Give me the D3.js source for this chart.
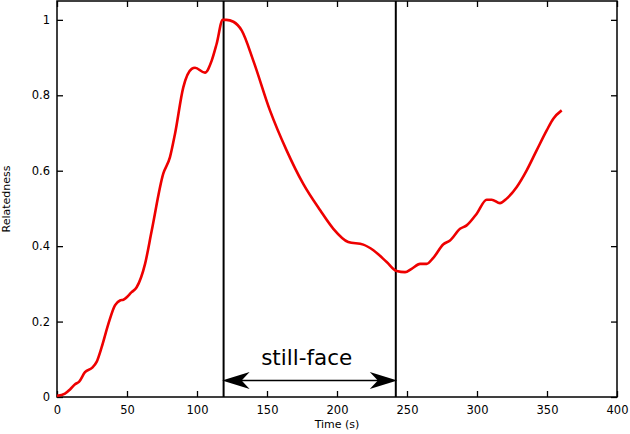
<!DOCTYPE html>
<html>
<head>
<meta charset="utf-8">
<script src="https://cdn.jsdelivr.net/npm/d3@7"></script>
<style>
  body { margin: 0; background: #fff; }
  text { font-family: "DejaVu Sans", sans-serif; }
</style>
</head>
<body>
<div id="chart"></div>
<script>
// Relatedness curve (time in s, value)
const times = [0, 5.7, 9.3, 12.9, 15.7, 20, 25.2, 28.3, 31.9, 36.7, 41.4, 45, 47.4, 53.3, 56.9, 62.9, 67.6,
  75.9, 80.7, 84.3, 90.2, 96.2, 98.6, 105.7, 110.5, 114, 118.4, 121, 126, 131.9, 140.2, 152.1, 164, 175.9,
  188, 197.4, 208, 218.8, 226, 235.5, 242.6, 248.6, 253.3, 259.3, 264, 268.8, 276, 280.7, 287.9, 292.6,
  299.8, 306.9, 310.5, 316.4, 321.2, 328.4, 335.5, 342.6, 349.8, 354.5, 360.5];
const relatedness = [0.003, 0.009, 0.02, 0.034, 0.04, 0.066, 0.078, 0.093, 0.132, 0.194, 0.243, 0.256, 0.258, 0.278, 0.291, 0.353, 0.44,
  0.592, 0.636, 0.698, 0.821, 0.87, 0.873, 0.86, 0.892, 0.936, 1.0, 1.0, 0.995, 0.972, 0.892, 0.76, 0.654, 0.565,
  0.495, 0.446, 0.411, 0.404, 0.389, 0.358, 0.334, 0.331, 0.34, 0.353, 0.353, 0.369, 0.405, 0.415, 0.446, 0.455,
  0.486, 0.523, 0.523, 0.514, 0.526, 0.557, 0.601, 0.654, 0.707, 0.738, 0.76];

// still-face period
const stillFace = [119, 242];
const stillFaceLabel = "still-face";
const arrowLevel = 0.044;

const xTicks = [0, 50, 100, 150, 200, 250, 300, 350, 400];
const yTicks = [0, 0.2, 0.4, 0.6, 0.8, 1];

const margin = {top: 1, right: 13, bottom: 37, left: 57},
      width = 630 - margin.left - margin.right,
      height = 434 - margin.top - margin.bottom;

const svg = d3.select("#chart")
  .append("svg")
    .attr("width", 630)
    .attr("height", 434)
  .append("g")
    .attr("transform", `translate(${margin.left},${margin.top})`);

const x = d3.scaleLinear().domain([0, 400]).range([0, width]);
const y = d3.scaleLinear().domain([0, 1.05]).range([height, 0]);

// Axes with inward ticks
svg.append("g")
    .attr("class", "axis")
    .attr("transform", `translate(0,${height})`)
    .call(d3.axisBottom(x).tickValues(xTicks).tickFormat(d3.format("d")).tickSizeInner(-6).tickSizeOuter(0).tickPadding(9));
svg.append("g")
    .attr("class", "axis")
    .call(d3.axisLeft(y).tickValues(yTicks).tickFormat(d => d).tickSizeInner(-6).tickSizeOuter(0).tickPadding(7));
svg.append("g")
    .attr("class", "axis")
    .call(d3.axisTop(x).tickValues(xTicks).tickFormat("").tickSizeInner(-6).tickSizeOuter(0));
svg.append("g")
    .attr("class", "axis")
    .attr("transform", `translate(${width},0)`)
    .call(d3.axisRight(y).tickValues(yTicks).tickFormat("").tickSizeInner(-6).tickSizeOuter(0));

svg.selectAll(".axis .domain").remove();
svg.selectAll(".axis line").attr("stroke", "#000").attr("stroke-width", 1.3);
svg.selectAll(".axis text")
    .attr("fill", "#000")
    .style("font-size", "11.5px")
    .style("font-family", "DejaVu Sans, sans-serif");

// Frame
svg.append("rect")
    .attr("width", width)
    .attr("height", height)
    .attr("fill", "none")
    .attr("stroke", "#000")
    .attr("stroke-width", 1.5);

// Axis labels
svg.append("text")
    .attr("x", width / 2)
    .attr("y", height + 31)
    .attr("text-anchor", "middle")
    .style("font-size", "11px")
    .text("Time (s)");
svg.append("text")
    .attr("transform", `translate(${10 - margin.left},${height / 2}) rotate(-90)`)
    .attr("text-anchor", "middle")
    .style("font-size", "11px")
    .text("Relatedness");

// Still-face boundaries
svg.selectAll(".bound")
  .data(stillFace)
  .enter()
  .append("line")
    .attr("x1", d => x(d))
    .attr("x2", d => x(d))
    .attr("y1", 0)
    .attr("y2", height)
    .attr("stroke", "#000")
    .attr("stroke-width", 2);

// Curve
const pts = times.map((t, i) => [t, relatedness[i]]);
svg.append("path")
    .datum(pts)
    .attr("fill", "none")
    .attr("stroke", "#ee0000")
    .attr("stroke-width", 2.6)
    .attr("stroke-linejoin", "round")
    .attr("d", d3.line().x(d => x(d[0])).y(d => y(d[1])).curve(d3.curveMonotoneX));

// Double-headed arrow
const ay = y(arrowLevel);
const x0 = x(stillFace[0]), x1 = x(stillFace[1]);
svg.append("line")
    .attr("x1", x0 + 10).attr("x2", x1 - 10)
    .attr("y1", ay).attr("y2", ay)
    .attr("stroke", "#000")
    .attr("stroke-width", 1.5);
const head = "M-1.5,0 L26,-8.5 L18,0 L26,8.5 Z";
svg.append("path")
    .attr("d", head)
    .attr("transform", `translate(${x0},${ay})`)
    .attr("fill", "#000");
svg.append("path")
    .attr("d", head)
    .attr("transform", `translate(${x1},${ay}) scale(-1,1)`)
    .attr("fill", "#000");

svg.append("text")
    .attr("x", x((stillFace[0] + stillFace[1]) / 2) - 3)
    .attr("y", ay - 15)
    .attr("text-anchor", "middle")
    .style("font-size", "21.5px")
    .text(stillFaceLabel);
</script>
</body>
</html>
